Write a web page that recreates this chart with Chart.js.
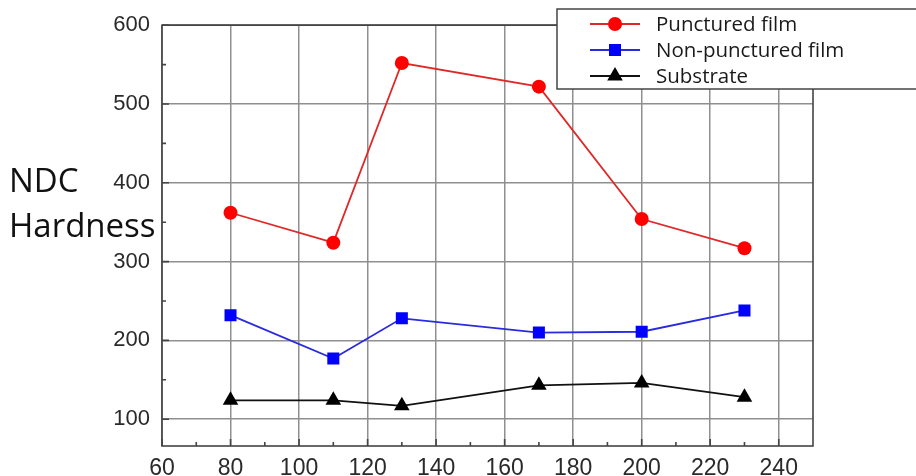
<!DOCTYPE html>
<html>
<head>
<meta charset="utf-8">
<script src="https://cdn.jsdelivr.net/npm/chart.js@4.4.0/dist/chart.umd.min.js"></script>
<style>
html,body{margin:0;padding:0;background:#fff}
canvas{display:block}
</style>
</head>
<body>
<canvas id="c" width="916" height="476"></canvas>
<script>
// data
const xValues = [80, 110, 130, 170, 200, 230];
const punctured = [362, 324, 552, 522, 354, 317];
const nonPunctured = [232, 177, 228, 210, 211, 238];
const substrate = [124, 124, 117, 143, 146, 128];
const seriesNames = ['Punctured film', 'Non-punctured film', 'Substrate'];
const xTicks = [60, 80, 100, 120, 140, 160, 180, 200, 220, 240];
const yTicks = [100, 200, 300, 400, 500, 600];
const yTitle = ['NDC', 'Hardness'];

function pts(ys){ return xValues.map((x,i)=>({x:x, y:ys[i]})); }

const styles = [
  {line:'#e02828', fill:'#ff0000', shape:'circle', r:7},
  {line:'#2a2ae0', fill:'#0000ff', shape:'rect', r:8.5},
  {line:'#111111', fill:'#000000', shape:'triangle', r:9}
];

function marker(ctx, shape, r, x, y, color){
  ctx.save();
  ctx.fillStyle = color;
  ctx.beginPath();
  if(shape==='circle'){
    ctx.arc(x, y, r, 0, Math.PI*2);
  }else if(shape==='rect'){
    const s = r*Math.SQRT1_2;
    ctx.rect(x-s, y-s, 2*s, 2*s);
  }else{
    const e = 3*r/Math.sqrt(3), h = e*Math.sqrt(3)/2;
    ctx.moveTo(x-e/2, y+h/3);
    ctx.lineTo(x+e/2, y+h/3);
    ctx.lineTo(x, y-2*h/3);
    ctx.closePath();
  }
  ctx.fill();
  ctx.restore();
}

// frame, minor ticks, y title, legend
const extras = {
  id:'extras',
  afterDatasetsDraw(chart){
    const ctx = chart.ctx, a = chart.chartArea;
    const xs = chart.scales.x, ys = chart.scales.y;
    ctx.save();
    ctx.strokeStyle = '#444';
    ctx.lineWidth = 1.6;
    ctx.strokeRect(a.left, a.top, a.right-a.left, a.bottom-a.top);
    // major ticks inward
    ctx.beginPath();
    xTicks.forEach(v=>{ const p = xs.getPixelForValue(v); ctx.moveTo(p, a.bottom); ctx.lineTo(p, a.bottom-7); });
    yTicks.forEach(v=>{ const p = ys.getPixelForValue(v); ctx.moveTo(a.left, p); ctx.lineTo(a.left+7, p); });
    // minor ticks half way
    for(let i=0;i<xTicks.length-1;i++){
      const p = xs.getPixelForValue((xTicks[i]+xTicks[i+1])/2);
      ctx.moveTo(p, a.bottom); ctx.lineTo(p, a.bottom-4);
    }
    for(let i=0;i<yTicks.length;i++){
      const v = yTicks[i]+50;
      if(v>=yTicks[yTicks.length-1]) continue;
      const p = ys.getPixelForValue(v);
      ctx.moveTo(a.left, p); ctx.lineTo(a.left+4, p);
    }
    ctx.stroke();

    // y title
    ctx.fillStyle = '#111';
    ctx.font = '33px "Open Sans"';
    ctx.textBaseline = 'alphabetic';
    ctx.textAlign = 'left';
    ctx.fillText(yTitle[0], 9, 192);
    ctx.fillText(yTitle[1], 9, 237);

    // legend box
    ctx.fillStyle = '#fff';
    ctx.fillRect(557, 9, 370, 80);
    ctx.strokeStyle = '#444';
    ctx.lineWidth = 1.5;
    ctx.strokeRect(557, 9, 370, 80);
    ctx.font = '20.5px "Open Sans"';
    ctx.textBaseline = 'middle';
    const rows = [24, 50, 76];
    chart.data.datasets.forEach((ds,i)=>{
      const st = styles[i], y = rows[i];
      ctx.strokeStyle = st.line;
      ctx.lineWidth = 2;
      ctx.beginPath(); ctx.moveTo(590, y); ctx.lineTo(640, y); ctx.stroke();
      marker(ctx, st.shape, st.r, 615, y, st.fill);
      ctx.fillStyle = '#1a1a1a';
      ctx.fillText(ds.label, 656, y+1);
    });
    ctx.restore();
  }
};

const datasets = [punctured, nonPunctured, substrate].map((vals,i)=>({
  label: seriesNames[i],
  data: pts(vals),
  borderColor: styles[i].line,
  borderWidth: 1.8,
  pointStyle: styles[i].shape,
  pointRadius: styles[i].r,
  pointBackgroundColor: styles[i].fill,
  pointBorderColor: styles[i].fill,
  pointBorderWidth: 0,
  tension: 0
}));

new Chart(document.getElementById('c'), {
  type: 'line',
  data: {datasets},
  options: {
    responsive: false,
    animation: false,
    layout: {padding: {top: 23, right: 103, left: 0, bottom: 0}},
    plugins: {legend: {display: false}, tooltip: {enabled: false}},
    scales: {
      x: {
        type: 'linear', min: 60, max: 250,
        afterBuildTicks: s => { s.ticks = xTicks.map(v=>({value:v})); },
        afterFit: s => { s.height = 30; },
        grid: {color: '#8f8f8f', lineWidth: 1.5, drawTicks: false},
        border: {display: false},
        ticks: {padding: 9, color: '#2a2a2a', font: {family: '"Liberation Sans", Arial', size: 23}, maxRotation: 0}
      },
      y: {
        type: 'linear', min: 66, max: 600,
        afterBuildTicks: s => { s.ticks = yTicks.map(v=>({value:v})); },
        afterFit: s => { s.width = 162; },
        grid: {color: '#8f8f8f', lineWidth: 1.5, drawTicks: false},
        border: {display: false},
        ticks: {padding: 12, color: '#2a2a2a', font: {family: '"Liberation Sans", Arial', size: 22}}
      }
    }
  },
  plugins: [extras]
});
</script>
</body>
</html>
